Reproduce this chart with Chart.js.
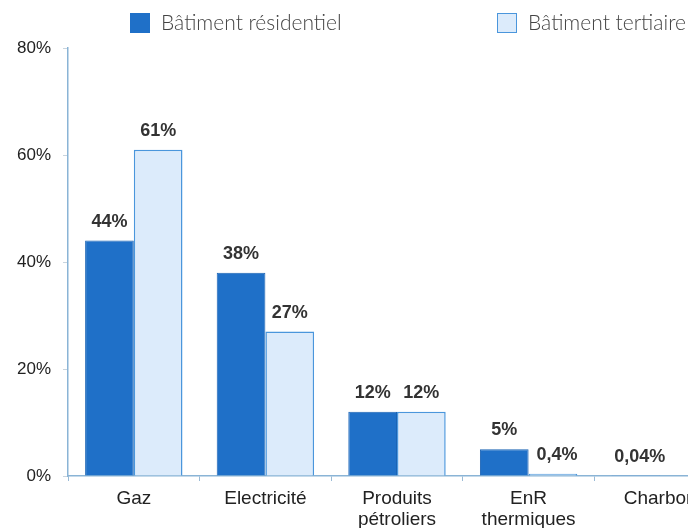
<!DOCTYPE html>
<html>
<head>
<meta charset="utf-8">
<script src="https://cdn.jsdelivr.net/npm/chart.js@4"></script>
<style>
    html, body { margin: 0; padding: 0; background: #fff; overflow: hidden; }
    #wrap { position: relative; width: 726px; height: 528px; }
    .leg { position: absolute; top: 9px; font-family: 'Lato', sans-serif; font-weight: 300; font-size: 21px; color: #444; white-space: nowrap; }
    .leg span { display: inline-block; width: 20px; height: 20px; vertical-align: -3px; margin-right: 11px; box-sizing: border-box; }
</style>
</head>
<body>
<div id="wrap">
    <canvas id="grafico"></canvas>
    <div class="leg" style="left:130px"><span style="background:#1f70c8"></span>Bâtiment résidentiel</div>
    <div class="leg" style="left:497px"><span style="background:#dcebfb;border:1.5px solid #4a96dc"></span>Bâtiment tertiaire</div>
</div>
<script>
const categories = [['Gaz'], ['Electricité'], ['Produits', 'pétroliers'], ['EnR', 'thermiques'], ['Charbon']];
const residentiel = [44, 38, 12, 5, 0.04];
const tertiaire = [61, 27, 12, 0.4, 0];
const etiquettesRes = ['44%', '38%', '12%', '5%', '0,04%'];
const etiquettesTer = ['61%', '27%', '12%', '0,4%', ''];
const yTicks = [0, 20, 40, 60, 80];

// étiquettes de valeur au-dessus des barres
const valeursPlugin = {
    id: 'valeurs',
    afterDatasetsDraw(chart) {
        const ctx = chart.ctx;
        ctx.save();
        ctx.font = 'bold 18px "Liberation Sans", Arial, sans-serif';
        ctx.fillStyle = '#333';
        ctx.textAlign = 'center';
        ctx.textBaseline = 'bottom';
        [etiquettesRes, etiquettesTer].forEach((labels, di) => {
            chart.getDatasetMeta(di).data.forEach((bar, i) => {
                if (!labels[i]) return;
                ctx.fillText(labels[i], bar.x + (bar.y > 465 ? 4 : 0), bar.y - 10);
            });
        });
        ctx.restore();
    }
};

const chart = new Chart(document.getElementById('grafico').getContext('2d'), {
    type: 'bar',
    data: {
        labels: categories,
        datasets: [{
            label: 'Bâtiment résidentiel',
            data: residentiel,
            backgroundColor: '#1f70c8',
            borderColor: '#1a63b4',
            borderWidth: 1
        }, {
            label: 'Bâtiment tertiaire',
            data: tertiaire,
            backgroundColor: '#dcebfb',
            borderColor: '#4a96dc',
            borderWidth: 1.5
        }]
    },
    options: {
        responsive: true,
        maintainAspectRatio: false,
        animation: false,
        events: [],
        categoryPercentage: 0.74,
        barPercentage: 1,
        layout: { padding: { top: 48, right: 0, bottom: 0, left: 0 } },
        plugins: { legend: { display: false }, tooltip: { enabled: false } },
        scales: {
            x: {
                grid: { display: true, drawOnChartArea: false, offset: true, tickLength: 5, color: '#9bbbd6' },
                border: { color: '#8ab4d6', width: 1.5 },
                ticks: {
                    font: { family: '"Liberation Sans", Arial, sans-serif', size: 19, lineHeight: 1.1 },
                    color: '#222',
                    padding: 7,
                    maxRotation: 0
                },
                afterFit(scale) { scale.height = 52; }
            },
            y: {
                min: 0,
                max: 80,
                afterBuildTicks(scale) { scale.ticks = yTicks.map(v => ({ value: v })); },
                grid: { display: true, drawOnChartArea: false, tickLength: 5, color: '#c8d4de' },
                border: { color: '#8ab4d6', width: 1.5 },
                ticks: {
                    font: { family: '"Liberation Sans", Arial, sans-serif', size: 17 },
                    color: '#222',
                    padding: 12,
                    callback: v => v + '%'
                },
                afterFit(scale) { scale.width = 68; }
            }
        }
    },
    plugins: [valeursPlugin]
});
</script>
</body>
</html>
